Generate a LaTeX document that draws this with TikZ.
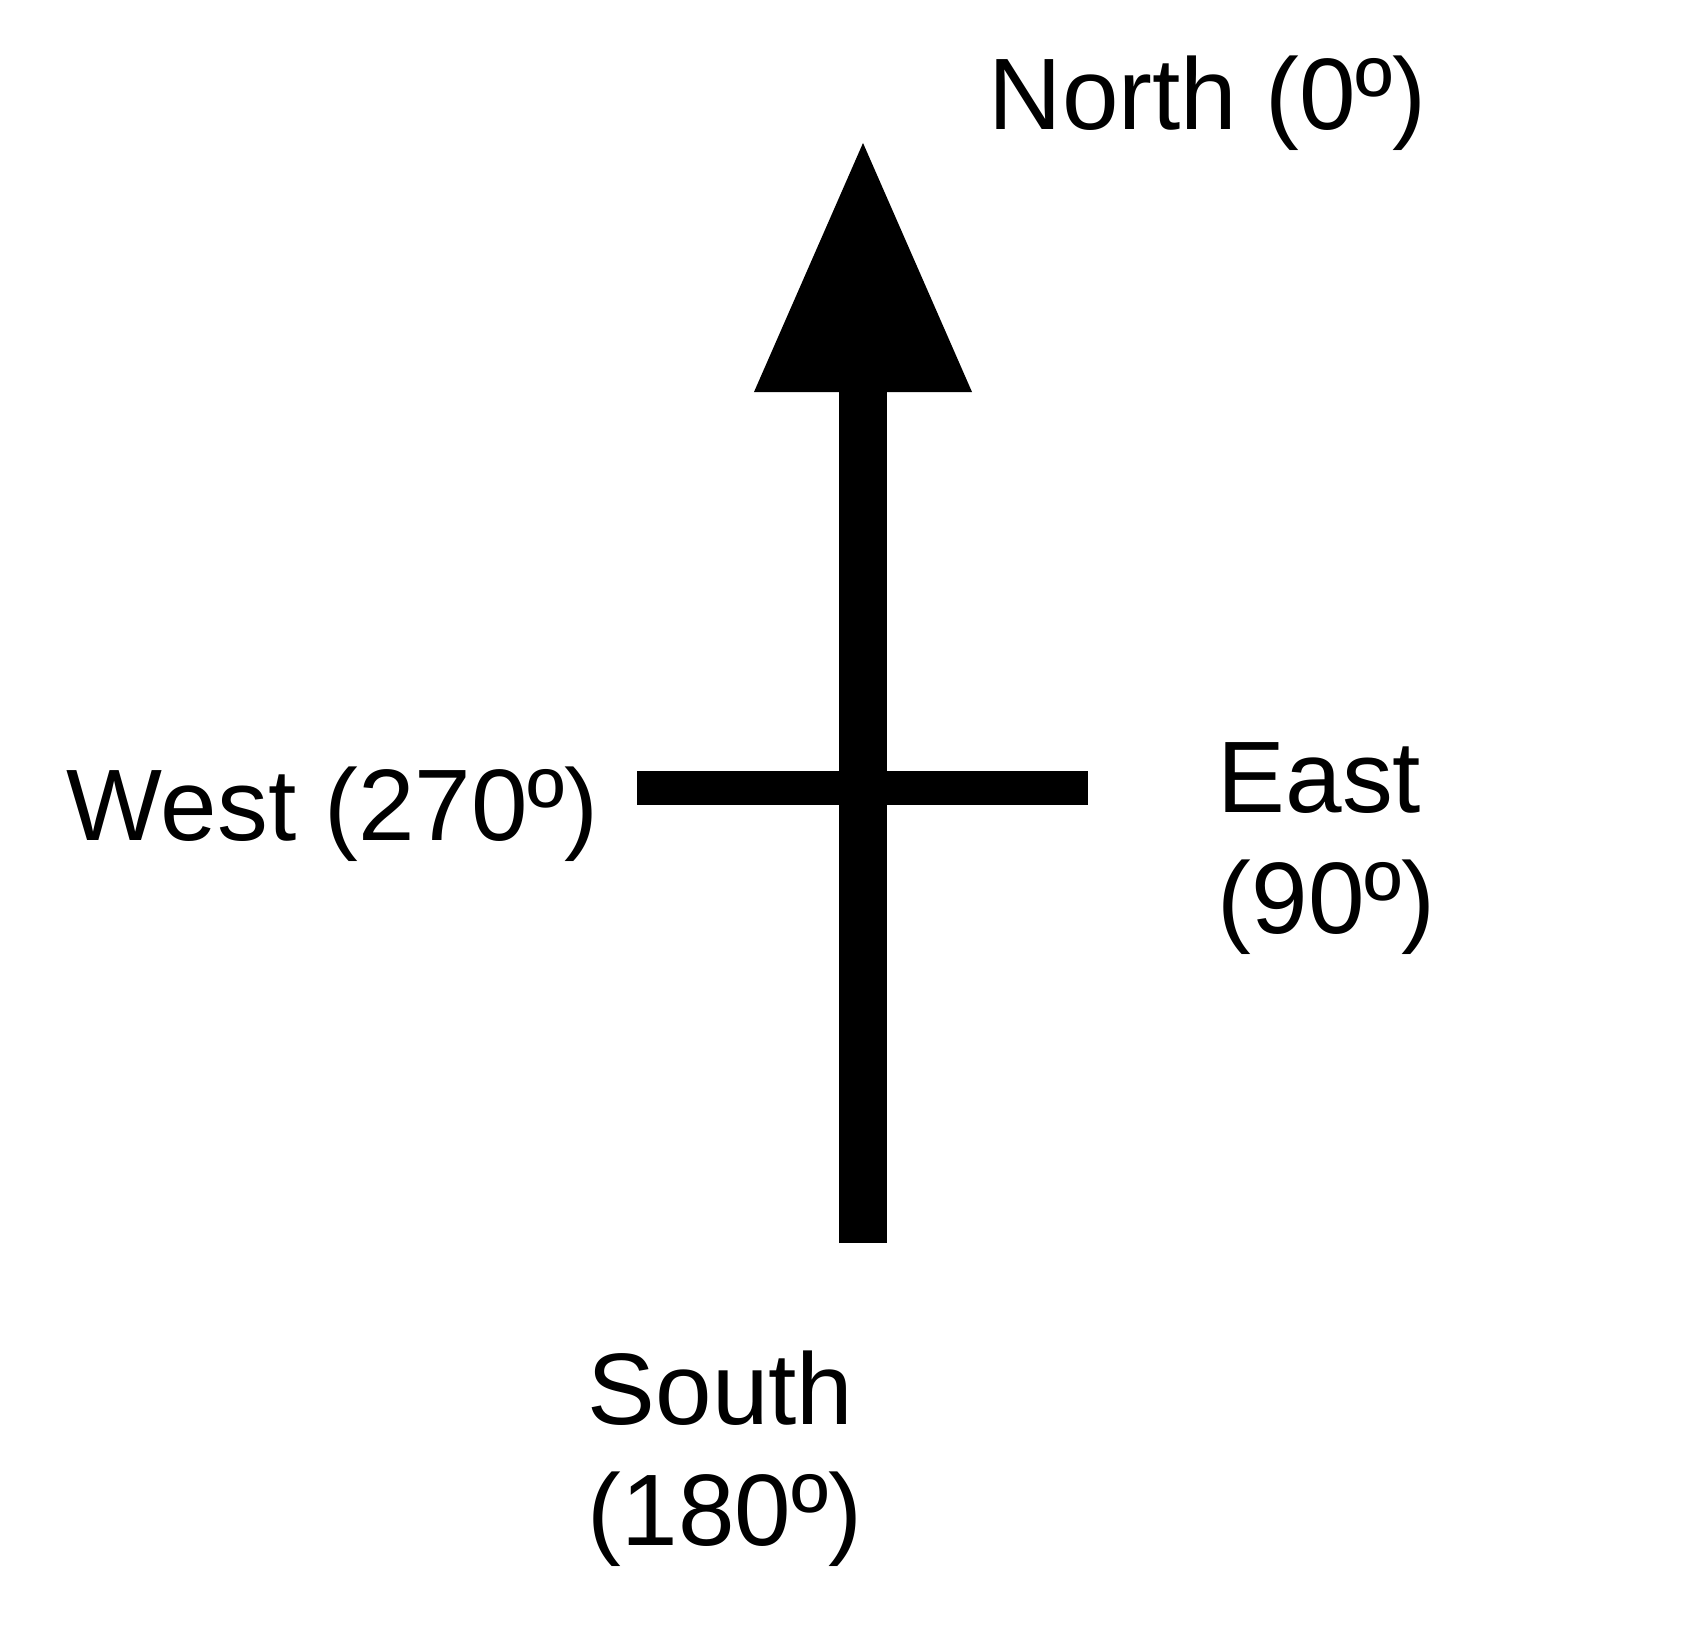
\documentclass[tikz,border=0pt]{standalone}
\usepackage{fontspec}
\setmainfont{Liberation Sans}
\usetikzlibrary{arrows.meta}

\begin{document}
\begin{tikzpicture}[x=0.01cm, y=-0.01cm,
  dirtext/.style={inner sep=0pt, anchor=base west, align=left, font=\fontsize{28.9pt}{34.4pt}\selectfont},
  shaft/.style={line width=0.48cm},
  crossbar/.style={line width=0.33cm},
  arr/.style={-{Triangle[length=2.49cm, width=2.18cm, line width=0pt]}}
]
\useasboundingbox (0,0) rectangle (1688,1631);
\coordinate (tail) at (863,1243);
\coordinate (tip) at (863,143);
\coordinate (westend) at (637,788);
\coordinate (eastend) at (1088,788);
% two-line labels sit on the baseline of their last line
\node[dirtext] (north) at (988,130) {North (0º)};
\node[dirtext] (west) at (66,840) {West (270º)};
\node[dirtext] (east) at (1217,933) {East\\(90º)};
\node[dirtext] (south) at (587,1545) {South\\(180º)};
\draw[shaft, arr] (tail) -- (tip);
\draw[crossbar] (westend) -- (eastend);
\end{tikzpicture}
\end{document}
